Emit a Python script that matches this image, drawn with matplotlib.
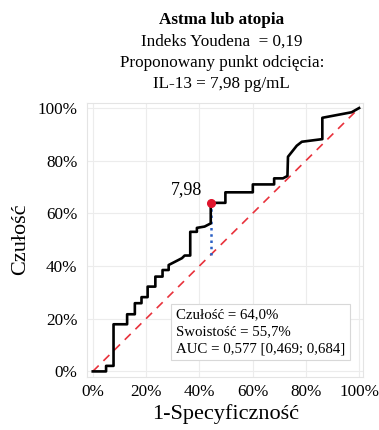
#!/usr/bin/env python3
"""ROC curve for IL-13 as a marker of asthma or atopy, with the Youden cut-off."""
import matplotlib

matplotlib.use("Agg")
import matplotlib.pyplot as plt
from matplotlib.ticker import PercentFormatter

# ROC curve (false positive rate, true positive rate)
fpr = [0.000, 0.050, 0.050, 0.078, 0.078, 0.129, 0.129, 0.158, 0.158, 0.183,
       0.183, 0.206, 0.206, 0.235, 0.235, 0.262, 0.262, 0.285, 0.285, 0.335,
       0.345, 0.366, 0.366, 0.391, 0.391, 0.420, 0.443, 0.443, 0.498, 0.498,
       0.601, 0.601, 0.681, 0.681, 0.714, 0.731, 0.733, 0.766, 0.785, 0.862,
       0.862, 0.972, 1.000]
tpr = [0.000, 0.000, 0.021, 0.021, 0.179, 0.179, 0.217, 0.217, 0.259, 0.259,
       0.282, 0.282, 0.322, 0.322, 0.360, 0.360, 0.385, 0.385, 0.404, 0.430,
       0.440, 0.440, 0.530, 0.530, 0.545, 0.550, 0.562, 0.640, 0.640, 0.680,
       0.680, 0.710, 0.710, 0.733, 0.733, 0.742, 0.815, 0.857, 0.872, 0.882,
       0.963, 0.984, 1.000]

# Optimal cut-off
sensitivity = 64.0
specificity = 55.7
youden = "0,19"
cutoff = "7,98"
auc = "0,577"
auc_ci = ("0,469", "0,684")

plt.rcParams["font.family"] = ["Liberation Serif", "DejaVu Serif"]

fig = plt.figure(figsize=(3.79, 4.30), dpi=100)
ax = fig.add_axes([0.230, 0.124, 0.728, 0.637])

ax.grid(True, color="#ececec", linewidth=0.8)
ax.set_axisbelow(True)
for spine in ax.spines.values():
    spine.set_color("#e4e4e4")
    spine.set_linewidth(0.8)

ax.plot([0, 1], [0, 1], color="#e8323c", linestyle=(0, (5, 4)), linewidth=1.2, zorder=2)

cut_x = 1 - specificity / 100
cut_y = sensitivity / 100
ax.plot([cut_x, cut_x], [cut_x, cut_y], color="#2a5fc4", linestyle=(0, (1, 1.5)),
        linewidth=1.8, zorder=3)
ax.plot(fpr, tpr, color="black", linewidth=1.9, zorder=4)
ax.plot(cut_x, cut_y, "o", color="#e0142c", markersize=5.5, zorder=5)
ax.text(cut_x - 0.09, cut_y + 0.05, cutoff, fontsize=13, ha="center", va="center")

ax.set_xlim(-0.021, 1.015)
ax.set_ylim(-0.02, 1.02)
ticks = [0, 0.2, 0.4, 0.6, 0.8, 1.0]
ax.set_xticks(ticks)
ax.set_yticks(ticks)
ax.xaxis.set_major_formatter(PercentFormatter(1.0, decimals=0))
ax.yaxis.set_major_formatter(PercentFormatter(1.0, decimals=0))
ax.tick_params(length=0, labelsize=12.3)
ax.tick_params(axis="y", pad=7)
ax.tick_params(axis="x", pad=5)

ax.set_xlabel("1-Specyficzność", fontsize=16, labelpad=3)
ax.set_ylabel("Czułość", fontsize=16, labelpad=5)

stats = (f"Czułość = {sensitivity:.1f}%\n"
         f"Swoistość = {specificity:.1f}%\n"
         f"AUC = {auc} [{auc_ci[0]}; {auc_ci[1]}]").replace(".", ",")
ax.text(0.313, 0.062, stats, fontsize=10.7, linespacing=1.38, va="bottom", ha="left",
        bbox=dict(boxstyle="square,pad=0.32", facecolor="white", edgecolor="#d8d8d8",
                  linewidth=0.8), zorder=6)

fig.text(0.585, 0.953, "Astma lub atopia", fontsize=12.3, fontweight="bold",
         ha="center", va="center")
fig.text(0.585, 0.903, f"Indeks Youdena  = {youden}", fontsize=12.3, ha="center", va="center")
fig.text(0.585, 0.853, "Proponowany punkt odcięcia:", fontsize=12.3, ha="center", va="center")
fig.text(0.585, 0.804, f"IL-13 = {cutoff} pg/mL", fontsize=12.3, ha="center", va="center")

fig.savefig("out.png", dpi=100)
